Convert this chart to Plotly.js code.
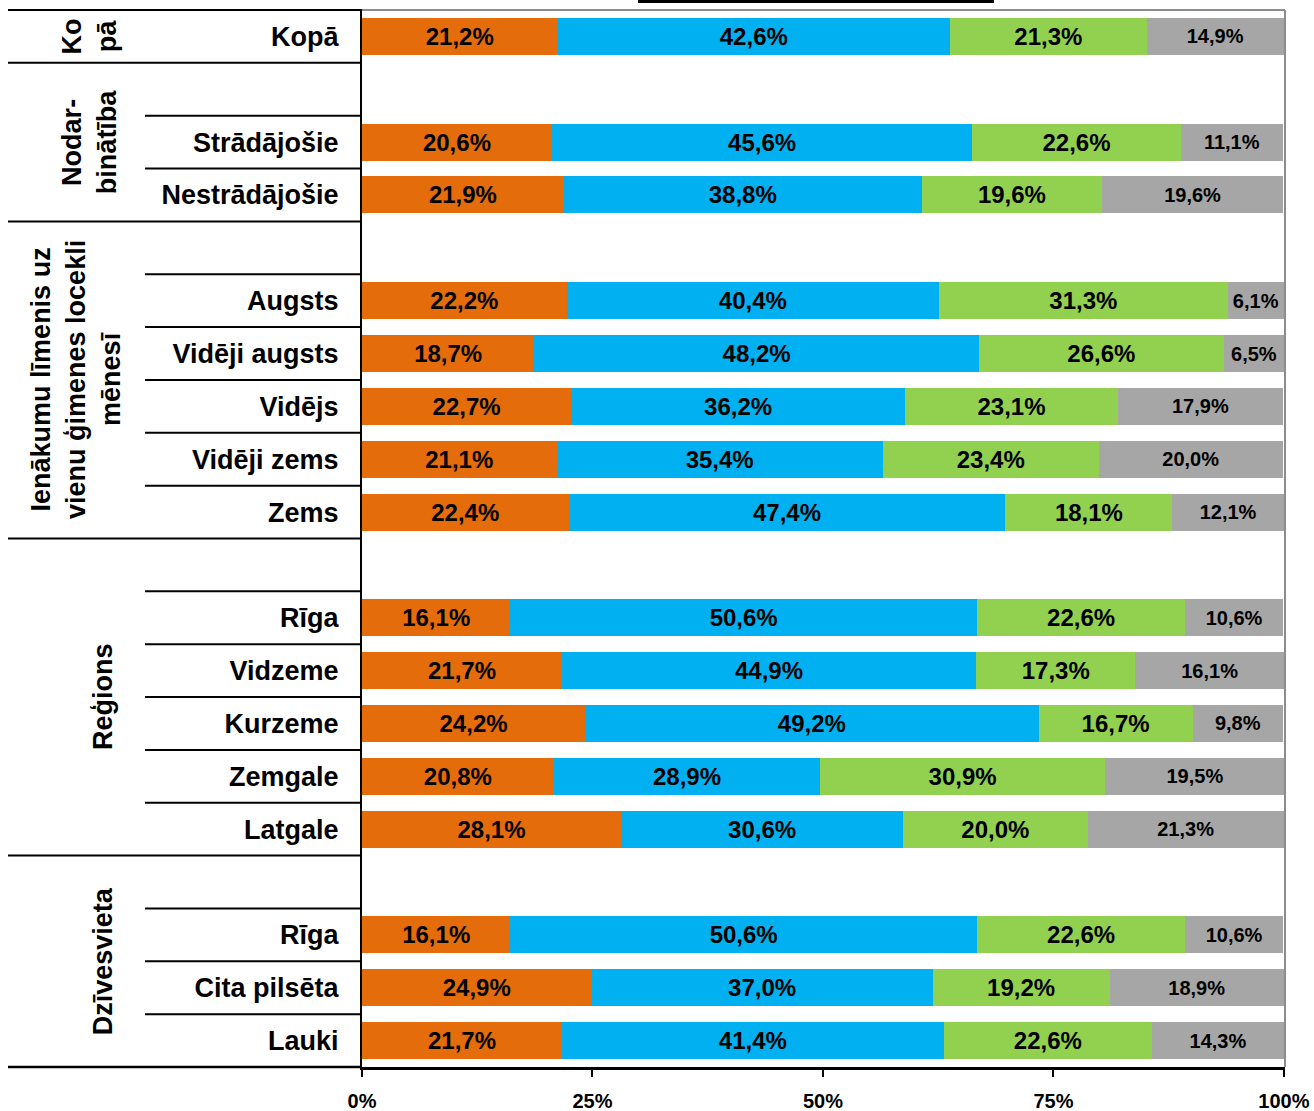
<!DOCTYPE html>
<html>
<head>
<meta charset="utf-8">
<script src="https://cdn.plot.ly/plotly-3.0.1.min.js"></script>
<style>html,body{margin:0;padding:0;background:#fff;}#chart{width:1314px;height:1111px;}</style>
</head>
<body>
<div id="chart"></div>
<script>
// ---- data ----
const groupNames = ["Ko<br>pā", "Nodar-<br>binātība", "Ienākumu līmenis uz<br>vienu ģimenes locekli<br>mēnesī", "Reģions", "Dzīvesvieta"];
const groupCategories = [
  ["Kopā"],
  ["Strādājošie", "Nestrādājošie"],
  ["Augsts", "Vidēji augsts", "Vidējs", "Vidēji zems", "Zems"],
  ["Rīga", "Vidzeme", "Kurzeme", "Zemgale", "Latgale"],
  ["Rīga", "Cita pilsēta", "Lauki"]
];
const orangeValues = [21.2, 20.6, 21.9, 22.2, 18.7, 22.7, 21.1, 22.4, 16.1, 21.7, 24.2, 20.8, 28.1, 16.1, 24.9, 21.7];
const blueValues   = [42.6, 45.6, 38.8, 40.4, 48.2, 36.2, 35.4, 47.4, 50.6, 44.9, 49.2, 28.9, 30.6, 50.6, 37.0, 41.4];
const greenValues  = [21.3, 22.6, 19.6, 31.3, 26.6, 23.1, 23.4, 18.1, 22.6, 17.3, 16.7, 30.9, 20.0, 22.6, 19.2, 22.6];
const greyValues   = [14.9, 11.1, 19.6, 6.1, 6.5, 17.9, 20.0, 12.1, 10.6, 16.1, 9.8, 19.5, 21.3, 10.6, 18.9, 14.3];
const xTickValues = [0, 25, 50, 75, 100];
const xTickLabels = ["0%", "25%", "50%", "75%", "100%"];

// ---- build row positions ----
const rowPos = [], rowLabels = [], groupSpans = [];
let r = 0;
groupCategories.forEach((cats, g) => {
  const start = r;
  if (g > 0) r++; // blank row
  const firstCat = r;
  cats.forEach(c => { rowPos.push(r); rowLabels.push(c); r++; });
  groupSpans.push({start: start, firstCat: firstCat, end: r});
});
const nRows = r;

const font = '"Liberation Sans", Arial, sans-serif';
const fmt = v => v.toFixed(1).replace('.', ',') + '%';

function series(vals, color, size) {
  return {
    type: 'bar', orientation: 'h', x: vals, y: rowPos, width: 0.7,
    marker: {color: color, line: {width: 0}},
    text: vals.map(fmt), textposition: 'inside', insidetextanchor: 'middle',
    constraintext: 'none', textangle: 0,
    textfont: {family: font, size: size, color: '#000', weight: 'bold'},
    hoverinfo: 'none', showlegend: false, cliponaxis: false
  };
}
const data = [
  series(orangeValues, '#E46C0A', 24),
  series(blueValues, '#00B0F0', 24),
  series(greenValues, '#92D050', 24),
  series(greyValues, '#A6A6A6', 20)
];

const L = 362, R = 1285, T = 10, B = 1067;
const W = R - L, H = B - T;
const px2x = p => (p - L) / W;
const px2y = p => 1 - (p - T) / H;
const bnd = i => 1 - i / nRows; // paper y of boundary above row i

const shapes = [];
groupSpans.forEach((s, g) => {
  shapes.push({type: 'line', xref: 'paper', yref: 'paper', x0: px2x(8), x1: 0, y0: bnd(s.start), y1: bnd(s.start), line: {color: '#000', width: 2}});
  for (let i = s.firstCat; i < s.end; i++) {
    if (i === s.start) continue;
    shapes.push({type: 'line', xref: 'paper', yref: 'paper', x0: px2x(145), x1: 0, y0: bnd(i), y1: bnd(i), line: {color: '#000', width: 2}});
  }
});
shapes.push({type: 'line', xref: 'paper', yref: 'paper', x0: px2x(8), x1: 0, y0: 0, y1: 0, line: {color: '#000', width: 2.5}});
// grey frame top and right
shapes.push({type: 'line', xref: 'paper', yref: 'paper', x0: 0, x1: 1, y0: 1, y1: 1, line: {color: '#8C8C8C', width: 2}});
shapes.push({type: 'line', xref: 'paper', yref: 'paper', x0: 1, x1: 1, y0: 0, y1: 1, line: {color: '#8C8C8C', width: 2}});
// cut-off title underline at the top edge
shapes.push({type: 'line', xref: 'paper', yref: 'paper', x0: px2x(638), x1: px2x(994), y0: px2y(1.5), y1: px2y(1.5), line: {color: '#000', width: 3}});

const groupX = [89, 89, 76, 103, 103];
const annotations = groupNames.map((name, g) => {
  const s = groupSpans[g];
  return {
    xref: 'paper', yref: 'paper', x: px2x(groupX[g]), y: (bnd(s.start) + bnd(s.end)) / 2,
    text: name, showarrow: false, textangle: -90, xanchor: 'center', yanchor: 'middle',
    font: {family: font, size: 27, color: '#000', weight: 'bold'}, align: 'center'
  };
});

const layout = {
  width: 1314, height: 1111,
  margin: {l: L, r: 1314 - R, t: T, b: 1111 - B, pad: 0},
  paper_bgcolor: '#fff', plot_bgcolor: '#fff',
  barmode: 'stack', bargap: 0.3,
  xaxis: {
    range: [0, 100.12], tickvals: xTickValues, ticktext: xTickLabels,
    showgrid: false, zeroline: false, showline: true, linecolor: '#000', linewidth: 2.5,
    ticks: 'outside', ticklen: 7, tickwidth: 2, tickcolor: '#000', ticklabelstandoff: 7,
    tickfont: {family: font, size: 20, color: '#000', weight: 'bold'}, fixedrange: true
  },
  yaxis: {
    range: [nRows - 0.5, -0.5], tickvals: rowPos, ticktext: rowLabels,
    showgrid: false, zeroline: false, showline: true, linecolor: '#000', linewidth: 2,
    ticks: '', ticklabelstandoff: 16,
    tickfont: {family: font, size: 27, color: '#000', weight: 'bold'}, fixedrange: true
  },
  shapes: shapes, annotations: annotations
};

Plotly.newPlot('chart', data, layout, {staticPlot: true});
</script>
</body>
</html>
